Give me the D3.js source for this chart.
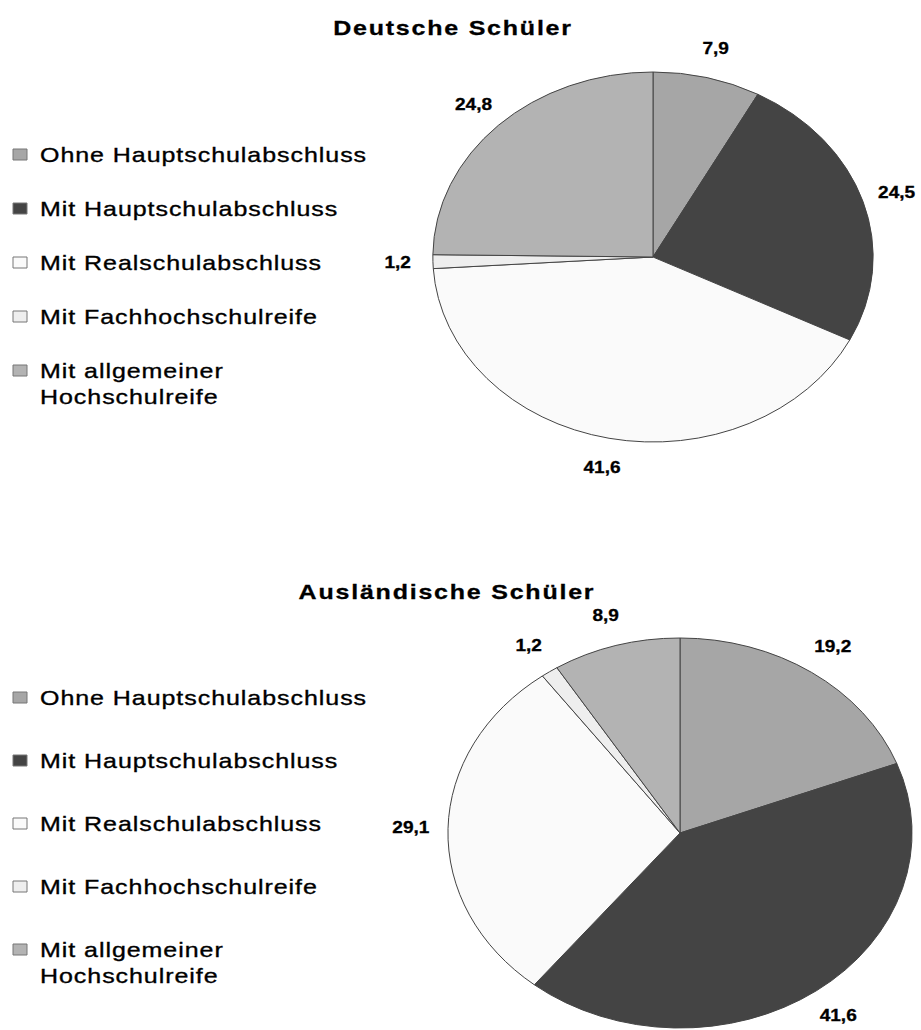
<!DOCTYPE html>
<html>
<head>
<meta charset="utf-8">
<script src="https://cdn.jsdelivr.net/npm/d3@7"></script>
<style>
  body { margin: 0; background: #fff; }
  text { font-family: "Liberation Sans", Arial, sans-serif; fill: #000; }
</style>
</head>
<body>
<div id="chart"></div>
<script>
// categories (legend order = slice order, clockwise from 12 o'clock)
const categories = [
    "Ohne Hauptschulabschluss",
    "Mit Hauptschulabschluss",
    "Mit Realschulabschluss",
    "Mit Fachhochschulreife",
    "Mit allgemeiner Hochschulreife"
];
const titles = ["Deutsche Schüler", "Ausländische Schüler"];
const deutscheValues = [7.9, 24.5, 41.6, 1.2, 24.8];
const auslaendischeValues = [19.2, 41.6, 29.1, 1.2, 8.9];
const fills = ["#a6a6a6", "#444444", "#fafafa", "#eeeeee", "#b3b3b3"];

const W = 921, H = 1030;
const K = 1.19;   // the whole picture is stretched horizontally

const svg = d3.select("#chart")
    .append("svg")
    .attr("width", W)
    .attr("height", H);

svg.append("rect").attr("width", W).attr("height", H).attr("fill", "#fff");

const root = svg.append("g").attr("transform", `scale(${K}, 1)`);

const color = d3.scaleOrdinal().domain(categories).range(fills);
const fmt = d3.formatLocale({decimal: ",", thousands: ".", grouping: [3], currency: ["", "€"]}).format(".1f");

function draw_panel(opts) {
    const {values, title, cx, cy, r, titleX, titleY, legendY, legendStep} = opts;

    // title
    root.append("text")
        .attr("x", titleX / K)
        .attr("y", titleY)
        .attr("text-anchor", "middle")
        .attr("font-size", 21)
        .attr("font-weight", "bold")
        .attr("letter-spacing", 1.5)
        .attr("stroke", "#000")
        .attr("stroke-width", 0.3)
        .text(title);

    const data = categories.map((c, i) => ({cat: c, value: values[i]}));
    const pie = d3.pie().sort(null).value(d => d.value);
    const arcs = pie(data);

    const arc = d3.arc().innerRadius(0).outerRadius(r);
    const labelArc = d3.arc().innerRadius(r * 1.16).outerRadius(r * 1.16);

    const g = root.append("g")
        .attr("transform", `translate(${cx / K}, ${cy})`);

    g.selectAll("path")
        .data(arcs)
        .join("path")
        .attr("d", arc)
        .attr("fill", d => color(d.data.cat))
        .attr("stroke", "#444")
        .attr("stroke-width", 1)
        .attr("vector-effect", "non-scaling-stroke");

    g.selectAll("text.lbl")
        .data(arcs)
        .join("text")
        .attr("class", "lbl")
        .attr("transform", d => `translate(${labelArc.centroid(d)})`)
        .attr("text-anchor", "middle")
        .attr("dominant-baseline", "central")
        .attr("font-size", 16)
        .attr("font-weight", "bold")
        .attr("stroke", "#000")
        .attr("stroke-width", 0.3)
        .text(d => fmt(d.data.value));

    // legend
    const leg = root.append("g");
    const rows = leg.selectAll("g")
        .data(categories)
        .join("g")
        .attr("transform", (d, i) => `translate(0, ${legendY + i * legendStep})`);

    rows.append("rect")
        .attr("x", 13 / K)
        .attr("y", -6)
        .attr("width", 14 / K)
        .attr("height", 11)
        .attr("fill", d => color(d))
        .attr("stroke", "#777")
        .attr("stroke-width", 1)
        .attr("vector-effect", "non-scaling-stroke");

    rows.append("text")
        .attr("x", 40 / K)
        .attr("y", 0)
        .attr("dominant-baseline", "central")
        .attr("font-size", 21)
        .attr("letter-spacing", 0.8)
        .attr("stroke", "#000")
        .attr("stroke-width", 0.35)
        .each(function(d) {
            // long label is wrapped onto two lines
            const parts = d === categories[4] ? ["Mit allgemeiner", "Hochschulreife"] : [d];
            d3.select(this).selectAll("tspan")
                .data(parts)
                .join("tspan")
                .attr("x", 40 / K)
                .attr("dy", (p, j) => j === 0 ? 0 : 26)
                .text(p => p);
        });
}

draw_panel({
    values: deutscheValues, title: titles[0],
    cx: 653, cy: 257, r: 185,
    titleX: 453, titleY: 35,
    legendY: 155, legendStep: 54
});

draw_panel({
    values: auslaendischeValues, title: titles[1],
    cx: 680, cy: 833, r: 195,
    titleX: 447, titleY: 599,
    legendY: 698, legendStep: 63
});
</script>
</body>
</html>
